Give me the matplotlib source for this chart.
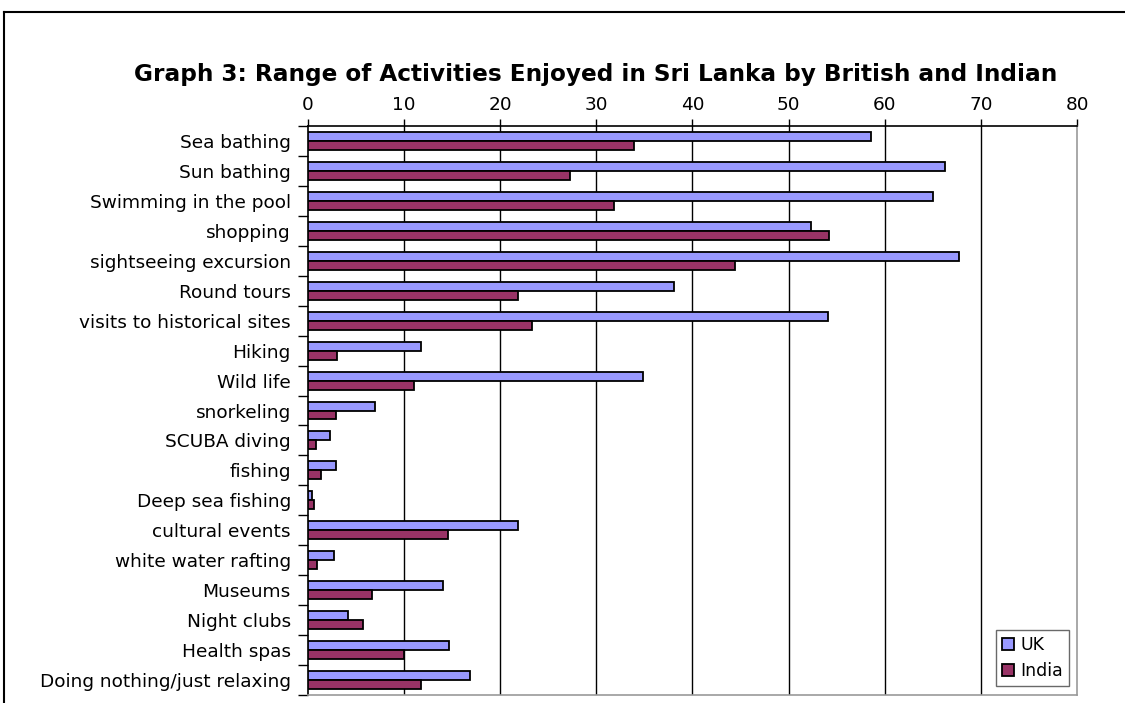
import matplotlib
matplotlib.use("Agg")
import matplotlib.pyplot as plt
from matplotlib.lines import Line2D
import numpy as np

categories = ["Sea bathing", "Sun bathing", "Swimming in the pool", "shopping",
              "sightseeing excursion", "Round tours", "visits to historical sites",
              "Hiking", "Wild life", "snorkeling", "SCUBA diving", "fishing",
              "Deep sea fishing", "cultural events", "white water rafting",
              "Museums", "Night clubs", "Health spas", "Doing nothing/just relaxing"]
uk = [58.6, 66.3, 65.0, 52.3, 67.7, 38.1, 54.1, 11.8, 34.9, 7.0, 2.3, 3.0,
      0.5, 21.9, 2.8, 14.1, 4.2, 14.7, 16.9]
india = [33.9, 27.3, 31.9, 54.2, 44.4, 21.9, 23.3, 3.1, 11.1, 3.0, 0.85, 1.4,
         0.7, 14.6, 1.0, 6.7, 5.8, 10.0, 11.8]
xticks = [0, 10, 20, 30, 40, 50, 60, 70, 80]
title = "Graph 3: Range of Activities Enjoyed in Sri Lanka by British and Indian"

W, H = 1125, 703
fig = plt.figure(figsize=(W / 100, H / 100), dpi=100)
fig.patch.set_facecolor("white")

left, right, top, bottom = 307.5, 1077.3, 126, 695
ax = fig.add_axes([left / W, 1 - bottom / H, (right - left) / W, (bottom - top) / H])

y = np.arange(len(categories))
bh = 0.3
ax.barh(y - bh / 2, uk, height=bh, color="#9999FF", edgecolor="black", linewidth=1.3,
        label="UK", zorder=3)
ax.barh(y + bh / 2, india, height=bh, color="#993366", edgecolor="black", linewidth=1.3,
        label="India", zorder=3)

fs = 13.3
ax.set_xlim(0, 80)
ax.set_ylim(len(categories) - 0.5, -0.5)
ax.set_xticks(xticks)
ax.xaxis.tick_top()
ax.tick_params(axis="x", direction="out", length=5, width=1, pad=4, labelsize=fs,
               colors="black")
ax.set_yticks(y)
ax.set_yticklabels(categories)
ax.tick_params(axis="y", which="major", length=0, pad=12, labelsize=fs)
ax.set_yticks(np.arange(-0.5, len(categories) + 0.5, 1), minor=True)
ax.tick_params(axis="y", which="minor", length=7, width=1, direction="out")

for xv in xticks[1:-1]:
    ax.axvline(xv, color="black", linewidth=1, zorder=1)

ax.spines["top"].set_color("black")
ax.spines["left"].set_color("black")
ax.spines["right"].set_color("#999999")
ax.spines["bottom"].set_color("#999999")
for s in ax.spines.values():
    s.set_linewidth(1.2)

leg = ax.legend(loc="lower right", bbox_to_anchor=(1 - 8 / (right - left), 9 / (bottom - top)),
                fontsize=12.5, frameon=True, fancybox=False, handlelength=0.7,
                handleheight=0.7, handletextpad=0.35, borderpad=0.35, labelspacing=0.45,
                borderaxespad=0)
leg.get_frame().set_edgecolor("#444444")
leg.get_frame().set_linewidth(1.0)

fig.text(596 / W, 1 - 75 / H, title, ha="center", va="center", fontsize=16.7,
         fontweight="bold")

# outer chart border (top and left visible)
fig.add_artist(Line2D([4 / W, 4 / W], [0, 1 - 12 / H], color="black", linewidth=1.5,
                      transform=fig.transFigure))
fig.add_artist(Line2D([4 / W, 1], [1 - 12 / H, 1 - 12 / H], color="black", linewidth=1.5,
                      transform=fig.transFigure))

fig.savefig("out.png", dpi=100)
